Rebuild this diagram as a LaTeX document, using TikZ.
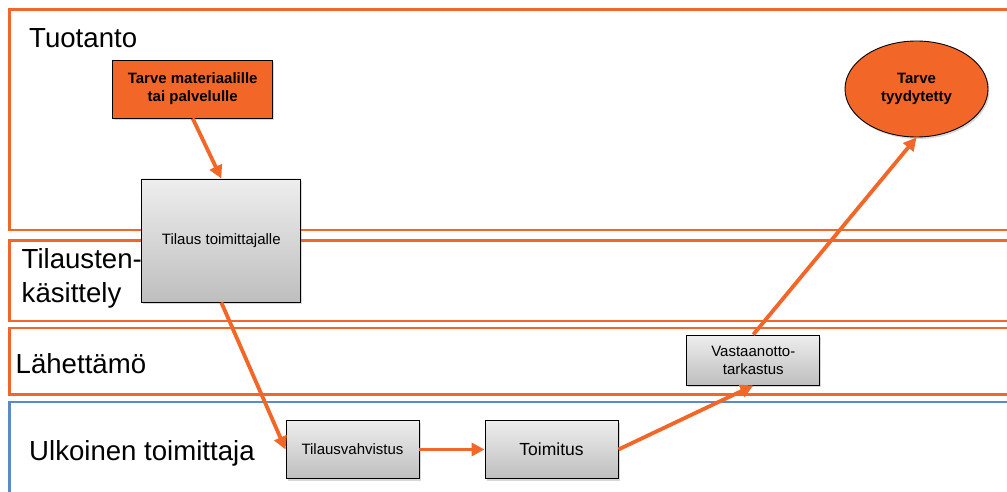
\documentclass[tikz,border=0pt]{standalone}
\usepackage{fontspec}
\setmainfont{Liberation Sans}
\usetikzlibrary{arrows.meta,shapes.geometric,shadows}
\definecolor{flow}{RGB}{242,103,40}
\definecolor{laneblue}{RGB}{90,138,200}
\definecolor{boxtop}{RGB}{238,238,238}
\definecolor{boxbot}{RGB}{190,190,190}
\tikzset{
  lane/.style={draw=flow,line width=2.6pt},
  extlane/.style={draw=laneblue,line width=2.6pt},
  lanelabel/.style={anchor=base west,inner sep=0pt,font=\fontsize{27.6}{34}\selectfont,align=left},
  graybox/.style={rectangle,draw=black,line width=0.9pt,inner sep=0pt,
    top color=boxtop,bottom color=boxbot,align=center,
    font=\fontsize{15}{18}\selectfont,
    drop shadow={opacity=0.3,shadow xshift=1.5pt,shadow yshift=-2pt}},
  hotbox/.style={rectangle,draw=black,line width=0.9pt,inner sep=0pt,fill=flow,
    align=center,font=\bfseries\fontsize{15}{18}\selectfont,
    drop shadow={opacity=0.3,shadow xshift=1.5pt,shadow yshift=-2pt}},
  hotoval/.style={ellipse,draw=black,line width=0.9pt,inner sep=0pt,fill=flow,
    align=center,font=\bfseries\fontsize{15}{18}\selectfont,
    drop shadow={opacity=0.3,shadow xshift=1.5pt,shadow yshift=-2pt}},
  flowarrow/.style={draw=flow,line width=3.8pt,-{Triangle[length=13pt,width=13pt]}}
}
\begin{document}
\begin{tikzpicture}[x=1pt,y=-1pt]
\useasboundingbox (0,0) rectangle (1007,492);
\clip (0,0) rectangle (1007,492);
\fill[white] (0,0) rectangle (1007,492);

% swim lanes
\draw[lane] (9.7,9.3) rectangle (1030,230);
\draw[lane] (9.7,240.7) rectangle (1030,321);
\draw[lane] (9.7,328) rectangle (1030,394.7);
\draw[extlane] (9.7,402) rectangle (1030,520);

\node[lanelabel] (l1) at (29,48) {Tuotanto};
\node[lanelabel] (l2) at (21.5,268) {Tilausten-};
\node[lanelabel] (l2b) at (21.5,302) {käsittely};
\node[lanelabel] (l3) at (15.5,373) {Lähettämö};
\node[lanelabel] (l4) at (29,460) {Ulkoinen toimittaja};

% process steps
\node[hotbox,minimum width=160pt,minimum height=58pt] (need) at (192.7,89) {Tarve materiaalille\\tai palvelulle};
\node[graybox,minimum width=159pt,minimum height=123pt] (order) at (221.3,240.5) {Tilaus toimittajalle};
\node[graybox,minimum width=133pt,minimum height=58pt] (confirm) at (352.5,449.5) {Tilausvahvistus};
\node[graybox,minimum width=133pt,minimum height=58pt,font=\fontsize{17.5}{20}\selectfont] (deliver) at (551.5,449.5) {Toimitus};
\node[graybox,minimum width=133pt,minimum height=50pt] (check) at (753.3,360) {Vastaanotto-\\tarkastus};
\node[hotoval,minimum width=143pt,minimum height=96pt,text depth=4pt] (done) at (916.5,89) {Tarve\\tyydytetty};

% flow
\draw[flowarrow] (need.south) -- (order.north);
\draw[flowarrow] (order.south) -- (confirm.west);
\draw[flowarrow] (confirm.east) -- (deliver.west);
\draw[flowarrow] (deliver.east) -- (check.south);
\draw[flowarrow] (check.north) -- (done.south);
\end{tikzpicture}
\end{document}
